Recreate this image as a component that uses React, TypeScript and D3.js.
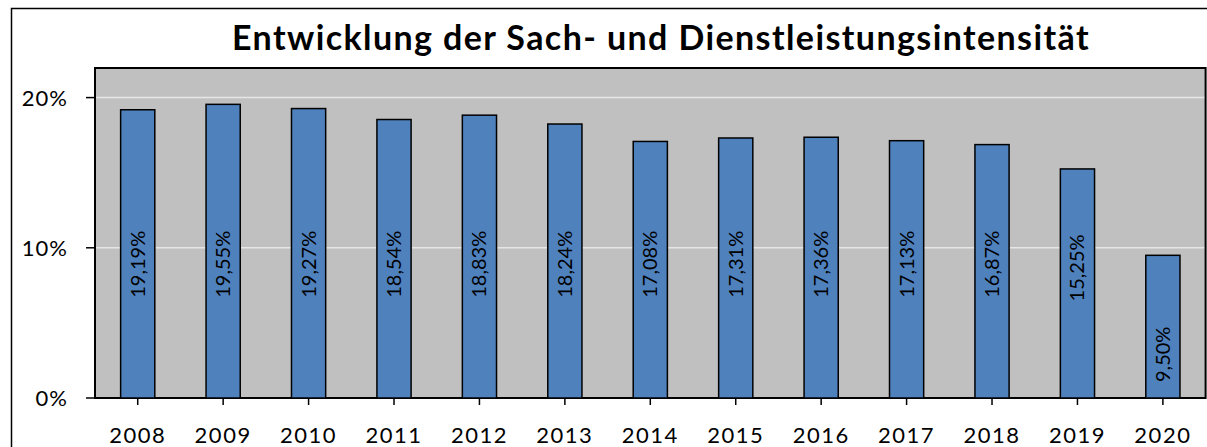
import React from "react";
import * as d3 from "d3";

const title = "Entwicklung der Sach- und Dienstleistungsintensität";
const years = ["2008","2009","2010","2011","2012","2013","2014","2015","2016","2017","2018","2019","2020"];
const values = [19.19,19.55,19.27,18.54,18.83,18.24,17.08,17.31,17.36,17.13,16.87,15.25,9.50];
const yTicks = [0, 10, 20];

const W = 1207, H = 447;
const M = { left: 95, right: 1205.6, top: 68, bottom: 398 };
const FONT = "Lato, 'Open Sans', sans-serif";

export default function App() {
  const x = d3.scaleBand<string>().domain(years).range([M.left, M.right]).paddingInner(0.6).paddingOuter(0.3);
  const y = d3.scaleLinear().domain([0, 21.97]).range([M.bottom, M.top]);
  const fmt = (v: number) => v.toFixed(2).replace(".", ",") + "%";
  const bw = x.bandwidth();
  return (
    <svg width={W} height={H} style={{ position: "absolute", left: 0, top: 0, display: "block" }}>
      <rect x={0} y={0} width={W} height={H} fill="#fff" />
      <rect x={11.5} y={8.5} width={W + 20} height={H + 20} fill="#fff" stroke="#000" strokeWidth={1.5} />
      <text x={661} y={50} textAnchor="middle" fontFamily={FONT} fontWeight={700} fontSize={34} letterSpacing={1.4} fill="#000">{title}</text>
      <rect x={M.left} y={M.top} width={M.right - M.left} height={M.bottom - M.top} fill="#c0c0c0" />
      {yTicks.filter(t => t > 0).map(t => (
        <line key={"g" + t} x1={M.left} x2={M.right} y1={y(t)} y2={y(t)} stroke="#e6e6e6" strokeWidth={1.5} />
      ))}
      <rect x={M.left} y={M.top} width={M.right - M.left} height={M.bottom - M.top} fill="none" stroke="#000" strokeWidth={2} />
      {years.map((yr, i) => {
        const v = values[i];
        const bx = x(yr)!;
        const cx = bx + bw / 2;
        const cy = Math.max(y(8.9), y(v) + 99);
        return (
          <g key={yr}>
            <rect x={bx} y={y(v)} width={bw} height={y(0) - y(v)} fill="#4f81bd" stroke="#000" strokeWidth={1.5} />
            <text transform={`translate(${cx + 7},${cy}) rotate(-90)`} textAnchor="middle" fontFamily={FONT} fontSize={20} fill="#000">{fmt(v)}</text>
            <line x1={cx} x2={cx} y1={M.bottom} y2={M.bottom + 7} stroke="#000" strokeWidth={1.5} />
            <text x={cx} y={443} textAnchor="middle" fontFamily={FONT} fontSize={22} letterSpacing={1.5} fill="#000">{yr}</text>
          </g>
        );
      })}
      {yTicks.map(t => (
        <g key={"t" + t}>
          <line x1={86} x2={M.left} y1={y(t)} y2={y(t)} stroke="#000" strokeWidth={1.5} />
          <text x={68} y={y(t) + 8} textAnchor="end" fontFamily={FONT} fontSize={22} letterSpacing={1} fill="#000">{t + "%"}</text>
        </g>
      ))}
    </svg>
  );
}
